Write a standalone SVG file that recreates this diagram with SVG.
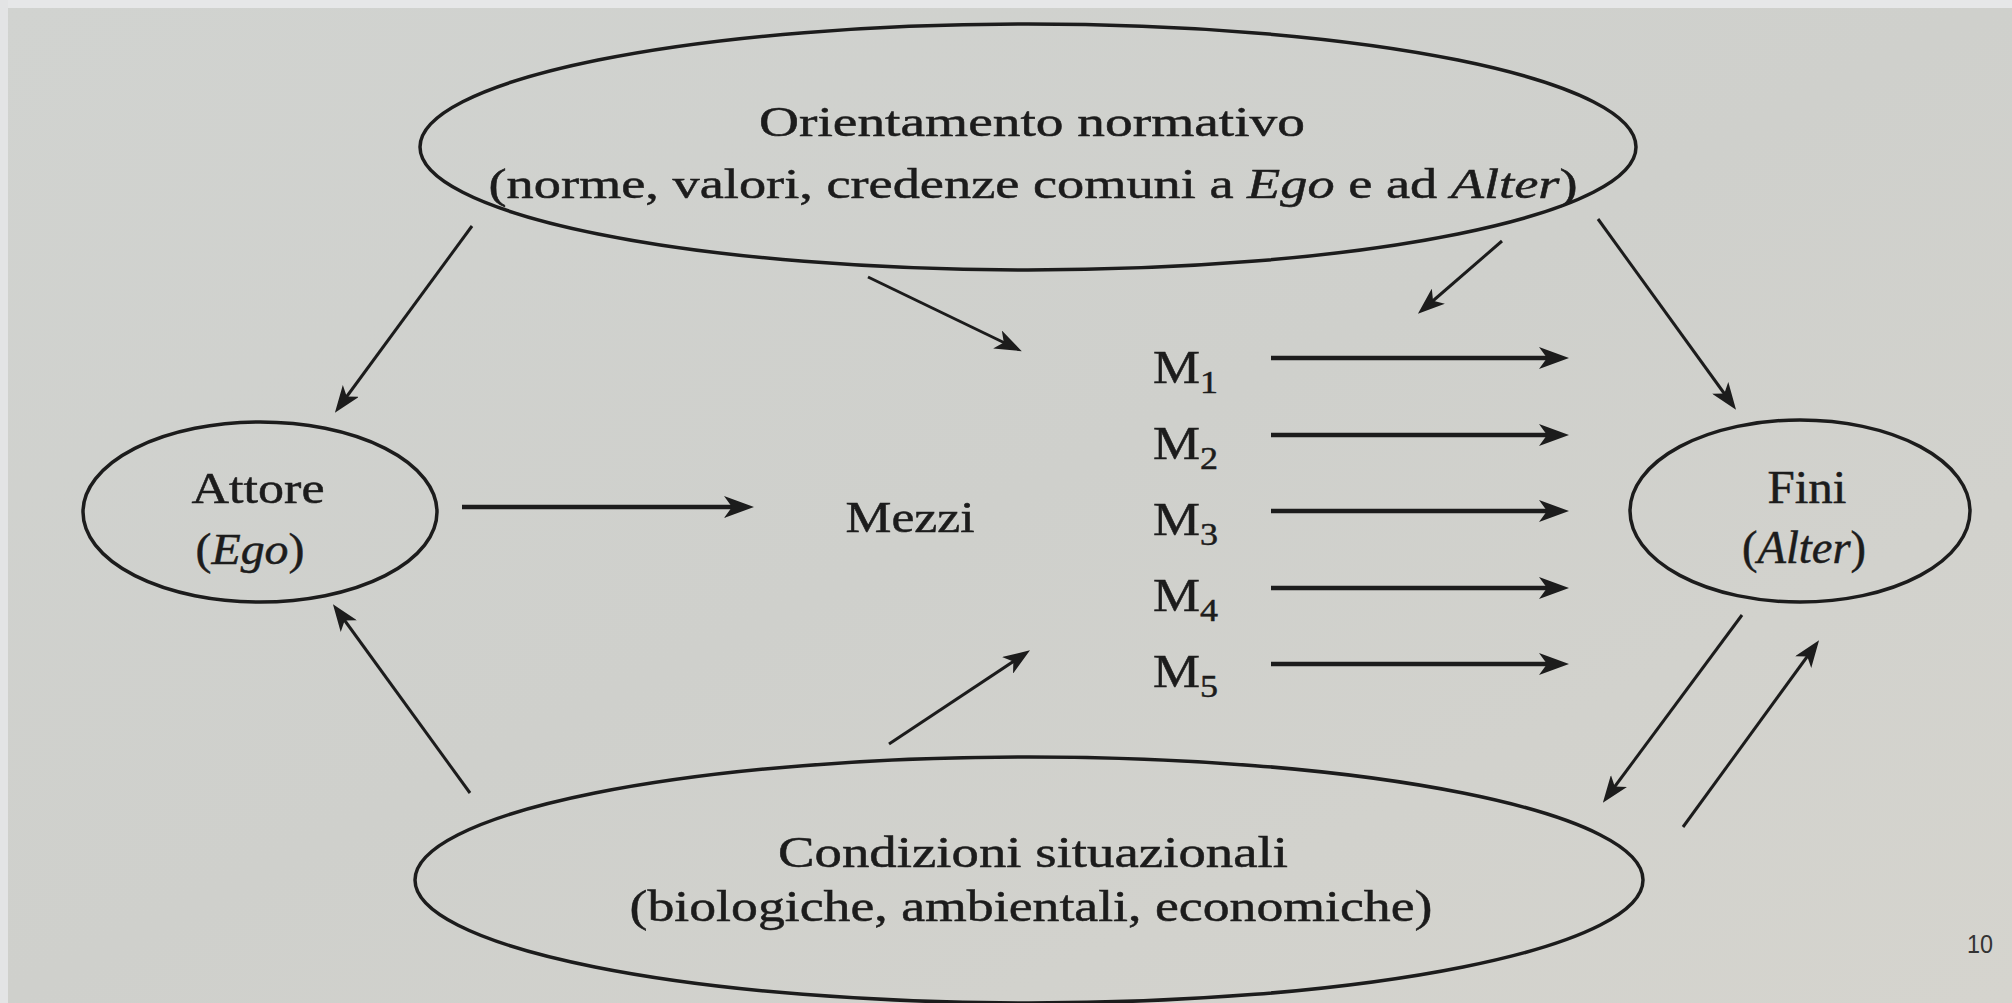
<svg xmlns="http://www.w3.org/2000/svg" width="2012" height="1003" viewBox="0 0 2012 1003">
  <defs>
    <linearGradient id="paper" x1="0" y1="0" x2="1" y2="1">
      <stop offset="0" stop-color="#d1d3d0"/>
      <stop offset="0.5" stop-color="#cfd0cc"/>
      <stop offset="1" stop-color="#d5d4ce"/>
    </linearGradient>
    <marker id="headBig" markerUnits="userSpaceOnUse" markerWidth="30" markerHeight="22" refX="17" refY="11" orient="auto" viewBox="0 0 30 22">
      <path d="M0,0 L30,11 L0,22 L8,11 Z" fill="#1c1c1c"/>
    </marker>
    <marker id="head" markerUnits="userSpaceOnUse" markerWidth="27" markerHeight="20" refX="15" refY="10" orient="auto" viewBox="0 0 27 20">
      <path d="M0,0 L27,10 L0,20 L7,10 Z" fill="#1c1c1c"/>
    </marker>
    <style>
      .node { fill: none; stroke: #1c1c1c; stroke-width: 3.5; }
      .lbl { font-family: "Liberation Serif", "Times New Roman", serif; fill: #1c1c1c; stroke: #1c1c1c; stroke-width: 0.5; text-anchor: middle; }
      .it { font-style: italic; }
      .harrow { stroke: #1c1c1c; stroke-width: 4.5; fill: none; marker-end: url(#headBig); }
      .darrow { stroke: #1c1c1c; stroke-width: 3; fill: none; marker-end: url(#head); }
      .m { font-family: "Liberation Serif", "Times New Roman", serif; fill: #1c1c1c; stroke: #1c1c1c; stroke-width: 0.5; font-size: 47px; }
    </style>
  </defs>

  <rect x="0" y="0" width="2012" height="1003" fill="url(#paper)"/>
  <rect x="0" y="0" width="2012" height="8" fill="#e6e7e8"/>
  <rect x="0" y="0" width="8" height="1003" fill="#e3e4e5"/>

  <g id="orientamento">
    <ellipse class="node" cx="1028" cy="147" rx="608" ry="123"/>
    <text class="lbl" x="1032" y="136" font-size="43" textLength="546" lengthAdjust="spacingAndGlyphs">Orientamento normativo</text>
    <text class="lbl" x="1033" y="198" font-size="43" textLength="1089" lengthAdjust="spacingAndGlyphs">(norme, valori, credenze comuni a <tspan class="it">Ego</tspan> e ad <tspan class="it">Alter</tspan>)</text>
  </g>

  <g id="attore">
    <ellipse class="node" cx="260" cy="512" rx="177" ry="90"/>
    <text class="lbl" x="258" y="503" font-size="45" textLength="133" lengthAdjust="spacingAndGlyphs">Attore</text>
    <text class="lbl" x="250" y="564" font-size="45" textLength="109" lengthAdjust="spacingAndGlyphs">(<tspan class="it">Ego</tspan>)</text>
  </g>

  <g id="mezzi">
    <text class="lbl" x="910" y="532" font-size="45" textLength="129" lengthAdjust="spacingAndGlyphs">Mezzi</text>
  </g>

  <g id="m1"><text class="m" x="1153" y="383" textLength="65" lengthAdjust="spacingAndGlyphs">M<tspan font-size="32" dy="10">1</tspan></text></g>
  <g id="m2"><text class="m" x="1153" y="459" textLength="65" lengthAdjust="spacingAndGlyphs">M<tspan font-size="32" dy="10">2</tspan></text></g>
  <g id="m3"><text class="m" x="1153" y="535" textLength="65" lengthAdjust="spacingAndGlyphs">M<tspan font-size="32" dy="10">3</tspan></text></g>
  <g id="m4"><text class="m" x="1153" y="611" textLength="65" lengthAdjust="spacingAndGlyphs">M<tspan font-size="32" dy="10">4</tspan></text></g>
  <g id="m5"><text class="m" x="1153" y="687" textLength="65" lengthAdjust="spacingAndGlyphs">M<tspan font-size="32" dy="10">5</tspan></text></g>

  <g id="fini">
    <ellipse class="node" cx="1800" cy="511" rx="170" ry="91"/>
    <text class="lbl" x="1807" y="503" font-size="46" textLength="79" lengthAdjust="spacingAndGlyphs">Fini</text>
    <text class="lbl" x="1804" y="563" font-size="46" textLength="124" lengthAdjust="spacingAndGlyphs">(<tspan class="it">Alter</tspan>)</text>
  </g>

  <g id="condizioni">
    <ellipse class="node" cx="1029" cy="880" rx="614" ry="123"/>
    <text class="lbl" x="1033" y="867" font-size="45" textLength="510" lengthAdjust="spacingAndGlyphs">Condizioni situazionali</text>
    <text class="lbl" x="1031" y="921" font-size="45" textLength="803" lengthAdjust="spacingAndGlyphs">(biologiche, ambientali, economiche)</text>
  </g>

  <g id="connectors">
    <line class="harrow" x1="462" y1="507" x2="741" y2="507"/>
    <line class="harrow" x1="1271" y1="358" x2="1556" y2="358"/>
    <line class="harrow" x1="1271" y1="435" x2="1556" y2="435"/>
    <line class="harrow" x1="1271" y1="511" x2="1556" y2="511"/>
    <line class="harrow" x1="1271" y1="588" x2="1556" y2="588"/>
    <line class="harrow" x1="1271" y1="664" x2="1556" y2="664"/>

    <line class="darrow" x1="472" y1="226" x2="342" y2="403"/>
    <line class="darrow" x1="868" y1="277" x2="1011" y2="346"/>
    <line class="darrow" x1="1502" y1="241" x2="1427" y2="306"/>
    <line class="darrow" x1="1598" y1="219" x2="1729" y2="400"/>
    <line class="darrow" x1="470" y1="793" x2="340" y2="614"/>
    <line class="darrow" x1="889" y1="744" x2="1020" y2="657"/>
    <line class="darrow" x1="1742" y1="615" x2="1610" y2="793"/>
    <line class="darrow" x1="1683" y1="827" x2="1812" y2="650"/>
  </g>

  <text x="1980" y="953" font-family="Liberation Sans, Arial, sans-serif" font-size="25" fill="#333" text-anchor="middle" textLength="26" lengthAdjust="spacingAndGlyphs">10</text>
</svg>
